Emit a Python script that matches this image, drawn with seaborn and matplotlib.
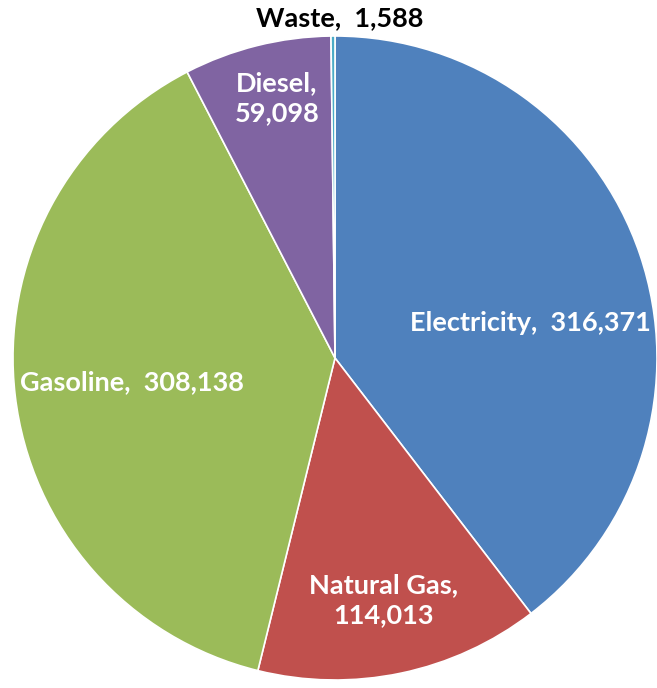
import matplotlib
matplotlib.use("Agg")
import matplotlib.pyplot as plt
import seaborn as sns

# Energy use by source
categories = ["Electricity", "Natural Gas", "Gasoline", "Diesel", "Waste"]
values = [316371, 114013, 308138, 59098, 1588]
label_texts = ["Electricity,  316,371", "Natural Gas,\n114,013", "Gasoline,  308,138",
               "Diesel,\n59,098", "Waste,  1,588"]

sns.set_theme(style="white")
plt.rcParams["font.family"] = ["Lato", "DejaVu Sans"]

colors = ["#4F81BD", "#C0504D", "#9BBB59", "#8064A2", "#4BACC6"]

fig = plt.figure(figsize=(6.57, 6.88), dpi=100)
ax = fig.add_axes([0, 0, 1, 1])
ax.pie(values, colors=colors, startangle=90, counterclock=False, radius=1.0,
       wedgeprops=dict(edgecolor="white", linewidth=1.2))

# pixel scale: center at (335, 358), radius 322 px
ax.set_xlim(-335 / 322, (657 - 335) / 322)
ax.set_ylim(-(688 - 358) / 322, 358 / 322)
ax.set_aspect("auto")
ax.axis("off")

label_pos = [(0.606, 0.109), (0.152, -0.752), (-0.630, -0.075), (-0.180, 0.807), (0.016, 1.056)]
text_colors = ["white", "white", "white", "white", "black"]
for txt, (x, y), c in zip(label_texts, label_pos, text_colors):
    ax.text(x, y, txt, ha="center", va="center", color=c, fontsize=19.5,
            fontweight="bold", linespacing=1.3)

fig.savefig("out.png", dpi=100, facecolor="white")
